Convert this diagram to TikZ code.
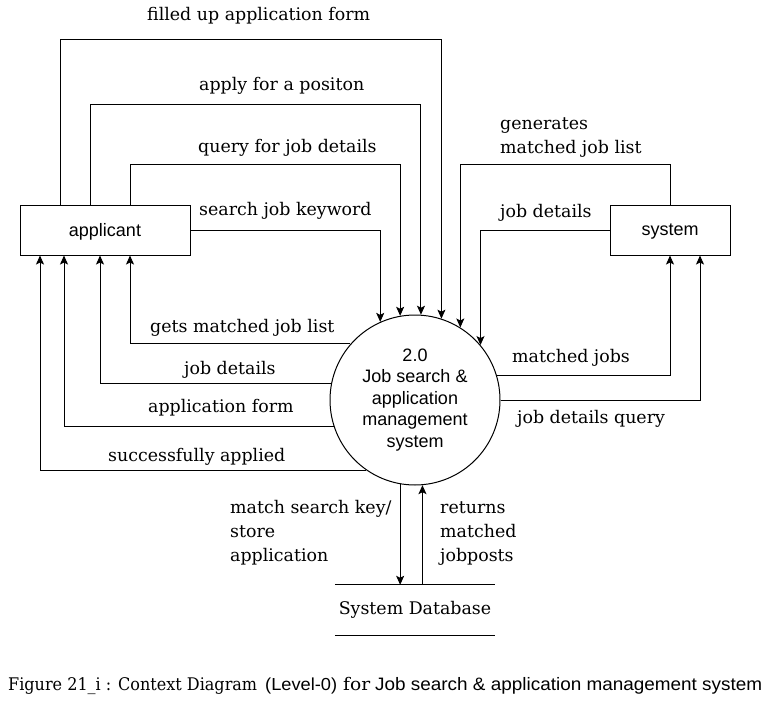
\documentclass[tikz,border=0pt]{standalone}
\usepackage{fontspec}
\setmainfont{DejaVu Serif}
\newfontfamily\sansf{Liberation Sans}
\usetikzlibrary{arrows.meta,positioning}

\begin{document}
\begin{tikzpicture}[x=1pt,y=-1pt,
  flow/.style={-{Stealth[length=9pt,width=8pt,inset=2pt]},line width=1pt},
  ent/.style={draw,line width=1pt,minimum width=170pt,minimum height=50pt,inner sep=0pt,text depth=1pt,font=\sansf\fontsize{18}{21.6}\selectfont},
  lbl/.style={anchor=base west,inner sep=0pt,align=left,font=\fontsize{17.4}{24}\selectfont}]
\useasboundingbox (0,0) rectangle (771,701);
\node[ent] (applicant) at (105,230) {applicant};
\node[ent,minimum width=120pt] (system) at (670,230) {system};
\node[draw,circle,line width=1pt,minimum size=170pt,inner sep=0pt,align=center,font=\sansf\fontsize{18}{21.5}\selectfont] (proc) at (415,400) {2.0\\Job search \&\\application\\management\\system};
\node[minimum width=160pt,minimum height=50pt,inner sep=0pt,font=\fontsize{17.4}{24}\selectfont] (db) at (415,610) {System Database};
\draw[line width=1pt] (db.north west) -- (db.north east) (db.south west) -- (db.south east);

\draw[flow] (applicant.east) -| (proc.114.3);
\draw[flow] (applicant.north -| 130,0) -- ++(0,-40) -| (proc.100.2);
\draw[flow] (applicant.north -| 90,0) -- ++(0,-100) -| (proc.86.6);
\draw[flow] (applicant.north -| 60,0) -- ++(0,-165) -| (proc.72.9);
\draw[flow] (system.north) -- ++(0,-40) -| (proc.58);
\draw[flow] (system.west) -| (proc.40.1);
\foreach \a/\x in {139.7/130,169.8/100,198.5/64,235.4/40}
  \draw[flow] (proc.\a) -| (applicant.south -| \x,0);
\draw[flow] (proc.17.1) -| (system.south);
\draw[flow] (proc.0) -| (system.south -| 700,0);
\draw[flow] (proc.260.5) -- (proc.260.5 |- db.north);
\draw[flow] (db.north -| proc.275.4) -- (proc.275.4);

\node[lbl] (lfilled) at (147,21) {filled up application form};
\node[lbl] (lapply) at (199,91) {apply for a positon};
\node[lbl] (lquery) at (198,152) {query for job details};
\node[lbl] (lsearch) at (199,215) {search job keyword};
\node[lbl] (lgen) at (500,153) {generates\\matched job list};
\node[lbl] (ldetails) at (500,217) {job details};
\node[lbl] (lgets) at (150,332) {gets matched job list};
\node[lbl] (ldetails2) at (184,374) {job details};
\node[lbl] (lform) at (148,412) {application form};
\node[lbl] (lapplied) at (108,461) {successfully applied};
\node[lbl] (lmatched) at (512,362) {matched jobs};
\node[lbl] (ldquery) at (517,423) {job details query};
\node[lbl] (lstore) at (230,561) {match search key/\\store\\application};
\node[lbl] (lreturns) at (440,561) {returns\\matched\\jobposts};

\node[anchor=base west,inner sep=0pt,font=\fontsize{17.4}{20}\selectfont] (caption) at (8,690)
  {\resizebox{249pt}{\height}{Figure 21\_i : Context Diagram}\hspace{8pt}\resizebox{72pt}{\height}{\sansf (Level-0)}\hspace{6pt}\resizebox{27pt}{\height}{for}\hspace{5pt}\resizebox{387pt}{\height}{\sansf\fontsize{18}{20}\selectfont Job search \& application management system}};
\end{tikzpicture}
\end{document}
